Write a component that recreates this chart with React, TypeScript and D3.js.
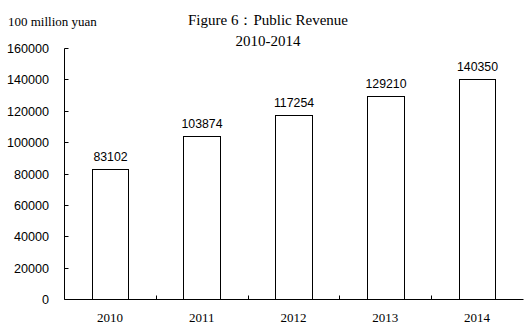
import React from "react";
import * as d3 from "d3";

const categories = ["2010", "2011", "2012", "2013", "2014"];
const revenue = [83102, 103874, 117254, 129210, 140350];
const yTicks = [0, 20000, 40000, 60000, 80000, 100000, 120000, 140000, 160000];
const titleLines = ["Figure 6：Public Revenue", "2010-2014"];
const unitLabel = "100 million yuan";

const W = 530;
const H = 333;
const left = 64;
const right = 523;
const top = 48;
const bottom = 299;

export default function App() {
  const x = d3
    .scaleBand<string>()
    .domain(categories)
    .range([left, right])
    .paddingInner(0.6)
    .paddingOuter(0.3);
  const y = d3.scaleLinear().domain([0, 160000]).range([bottom, top]);
  const step = (right - left) / categories.length;
  const px = (v: number) => Math.round(v) + 0.5;
  const sans = "'Liberation Sans', Arial, sans-serif";
  const serif = "'Liberation Serif', 'Times New Roman', serif";

  return (
    <svg
      width={W}
      height={H}
      style={{ position: "absolute", left: 0, top: 0, background: "#fff" }}
    >
      <rect x={0} y={0} width={W} height={H} fill="#fff" />
      <text x={8} y={26} fontFamily={serif} fontSize={13} fill="#000">
        {unitLabel}
      </text>
      <text x={268} y={25} textAnchor="middle" fontFamily={serif} fontSize={15} fill="#000">
        {titleLines[0]}
      </text>
      <text x={268} y={46} textAnchor="middle" fontFamily={serif} fontSize={15} fill="#000">
        {titleLines[1]}
      </text>

      {/* bars */}
      {categories.map((c, i) => {
        const x0 = px(x(c)!);
        const x1 = px(x(c)! + x.bandwidth());
        const yt = px(y(revenue[i]));
        return (
          <g key={c}>
            <rect
              x={x0}
              y={yt}
              width={x1 - x0}
              height={px(y(0)) - yt}
              fill="#fff"
              stroke="#000"
              strokeWidth={1}
            />
            <text
              x={(x0 + x1) / 2}
              y={yt - 9}
              textAnchor="middle"
              fontFamily={sans}
              fontSize={12.3}
              fill="#000"
            >
              {revenue[i]}
            </text>
            <text
              x={left + step * (i + 0.5)}
              y={321.5}
              textAnchor="middle"
              fontFamily={serif}
              fontSize={13}
              fill="#000"
            >
              {c}
            </text>
          </g>
        );
      })}

      {/* y axis */}
      <line x1={px(left)} x2={px(left)} y1={px(top)} y2={px(bottom)} stroke="#000" />
      {yTicks.map((t) => (
        <g key={t}>
          <line x1={px(left)} x2={px(left) + 4} y1={px(y(t))} y2={px(y(t))} stroke="#000" />
          <text
            x={49}
            y={px(y(t))}
            dy="0.36em"
            textAnchor="end"
            fontFamily={sans}
            fontSize={12.6}
            fill="#000"
          >
            {t}
          </text>
        </g>
      ))}

      {/* x axis */}
      <line x1={px(left)} x2={px(right)} y1={px(bottom)} y2={px(bottom)} stroke="#000" />
      {categories.slice(1).map((c, i) => {
        const xv = px(left + step * (i + 1));
        return <line key={c} x1={xv} x2={xv} y1={px(bottom)} y2={px(bottom) - 4} stroke="#000" />;
      })}
    </svg>
  );
}
